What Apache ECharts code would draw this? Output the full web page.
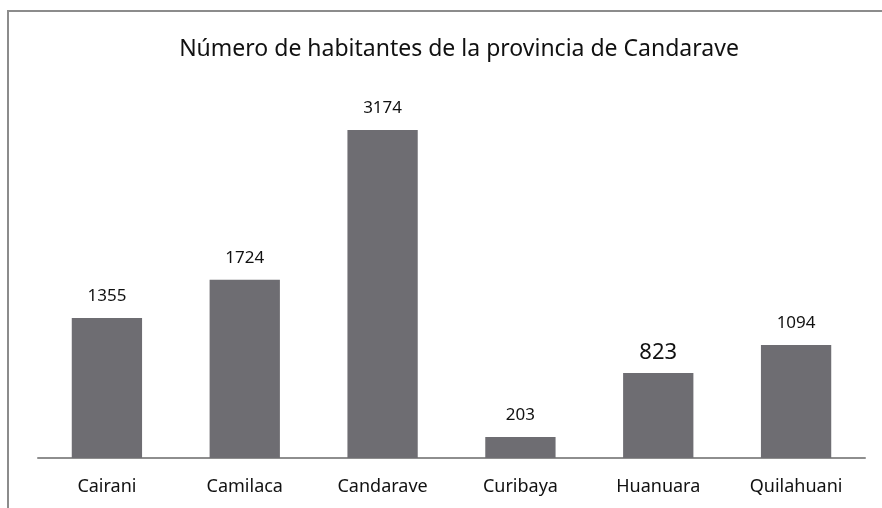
<!DOCTYPE html>
<html><head><meta charset="utf-8">
<script src="https://cdn.jsdelivr.net/npm/echarts@6/dist/echarts.min.js"></script>
<style>html,body{margin:0;padding:0;background:#fff}#c{width:882px;height:508px}</style>
</head><body><div id="c"></div>
<script>
const categories = ["Cairani","Camilaca","Candarave","Curibaya","Huanuara","Quilahuani"];
const values = [1355,1724,3174,203,823,1094];
const titleText = "Número de habitantes de la provincia de Candarave";

const chart = echarts.init(document.getElementById('c'));
const FONT = "Noto Sans";
chart.setOption({
  animation:false,
  title:{text:titleText,left:454,top:33,textAlign:'center',
    textStyle:{fontFamily:FONT,fontSize:23,fontWeight:'normal',color:'#111'}},
  grid:{left:38,right:17,top:44.6,bottom:50},
  xAxis:{type:'category',data:categories,
    axisLine:{lineStyle:{color:'#8e8e8e',width:2}},
    axisTick:{show:false},
    axisLabel:{fontFamily:FONT,fontSize:18,color:'#111',margin:20}},
  yAxis:{type:'value',min:0,max:4000,show:false,splitLine:{show:false}},
  series:[{type:'bar',data:values.map((v,i)=>({value:v,label:i===4?{fontSize:22,distance:9}:{}})),barWidth:'51%',
    itemStyle:{color:'#6e6d72'},
    label:{show:true,position:'top',distance:13,fontFamily:FONT,fontSize:17,color:'#111'}}],
  graphic:[
    {type:'line',shape:{x1:8,y1:11,x2:882,y2:11},style:{stroke:'#8c8c8c',lineWidth:2}},
    {type:'line',shape:{x1:8,y1:10,x2:8,y2:508},style:{stroke:'#8c8c8c',lineWidth:2}}
  ]
});
</script></body></html>
